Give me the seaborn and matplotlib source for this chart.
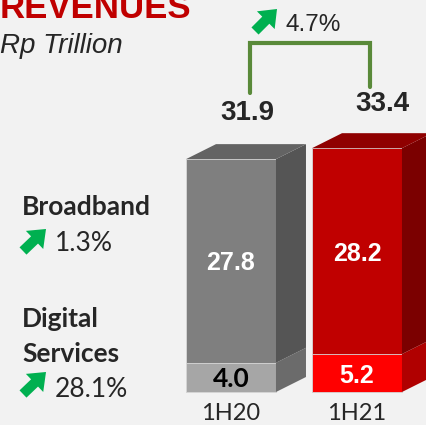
import numpy as np
import pandas as pd
import matplotlib
matplotlib.use("Agg")
import matplotlib.pyplot as plt
import seaborn as sns

# --- data ---
periods = ["1H20", "1H21"]
broadband = [27.8, 28.2]
digital = [4.0, 5.2]
totals = [31.9, 33.4]
growth_total = "4.7%"
growth_broadband = "1.3%"
growth_digital = "28.1%"

# --- style ---
BG = "#f2f2f2"
GREEN = "#00b050"
BRACKET = "#5a8a3a"
front_top = ["#7f7f7f", "#c00000"]
front_bot = ["#a6a6a6", "#ff0000"]
side_top = ["#555555", "#7b0000"]
side_bot = ["#6b6b6b", "#b00000"]
top_face = ["#636363", "#8f0000"]

W = 0.714          # bar width (category units)
DX = 30 / 126      # 3d depth, x
DY = 15 / 7.3      # 3d depth, y
ARIAL = "Liberation Sans"
CALIBRI = "Lato"

sns.set_style("white")

fig = plt.figure(figsize=(4.26, 4.25), dpi=100)
fig.patch.set_facecolor(BG)
ax = fig.add_axes([0, 0, 1, 1])
ax.set_facecolor(BG)

df = pd.DataFrame({"period": periods, "total": totals, "digital": digital,
                   "broadband": broadband})

sns.barplot(data=df, x="period", y="total", hue="period", palette=front_top,
            width=W, saturation=1, legend=False, ax=ax,
            edgecolor="#d9d9d9", linewidth=0.6)
sns.barplot(data=df, x="period", y="digital", hue="period", palette=front_bot,
            width=W, saturation=1, legend=False, ax=ax,
            edgecolor="#d9d9d9", linewidth=0.6)

# 3d side and top faces
for i in range(len(periods)):
    x0, x1 = i - W / 2, i + W / 2
    lo, mid, hi = 0, digital[i], totals[i]
    ax.fill([x1, x1 + DX, x1 + DX, x1], [lo, lo + DY, mid + DY, mid],
            color=side_bot[i], lw=0)
    ax.fill([x1, x1 + DX, x1 + DX, x1], [mid, mid + DY, hi + DY, hi],
            color=side_top[i], lw=0)
    ax.fill([x0, x1, x1 + DX, x0 + DX], [hi, hi, hi + DY, hi + DY],
            color=top_face[i], lw=0)

    # segment labels
    ax.text(i, (mid + hi) / 2, f"{broadband[i]:.1f}", ha="center",
            va="center_baseline", color="white", fontsize=18,
            fontweight="bold", family=ARIAL)
    ax.text(i, mid / 2, f"{digital[i]:.1f}", ha="center",
            va="center_baseline", color="black" if i == 0 else "white",
            fontsize=18 if i else 19, fontweight="bold",
            family=CALIBRI if i == 0 else ARIAL)
    ax.text(i, -3.84, periods[i], ha="center", va="baseline",
            fontsize=17, family=CALIBRI)

ax.set_xlim(-231 / 126, 195 / 126)
ax.set_ylim(-33 / 7.3, 392 / 7.3)
ax.axis("off")

# totals
tot_x = [0 + 16 / 126, 1 + 25 / 126]
tot_y = [totals[0] + DY + 3.3, totals[1] + DY + 3.0]
for i in range(len(periods)):
    ax.text(tot_x[i], tot_y[i], f"{totals[i]:.1f}", ha="center",
            va="baseline", fontsize=20, fontweight="bold", family=ARIAL)

# growth bracket
bx = [0 + 19 / 126, 1 + 13 / 126]
btop = max(totals) + 14.4
ax.plot([bx[0], bx[0], bx[1], bx[1]],
        [totals[0] + 9.1, btop, btop, totals[1] + 8.4],
        color=BRACKET, lw=3, solid_joinstyle="miter")


def fy(ypx):
    return 1 - ypx / 425


def up_arrow(x0, y0, x1, y1):
    ax.annotate("", xy=(x1, 425 - y1), xytext=(x0, 425 - y0),
                xycoords="figure pixels", textcoords="figure pixels",
                arrowprops=dict(arrowstyle="simple,head_length=0.6,head_width=0.95,tail_width=0.38",
                                color=GREEN, lw=0, mutation_scale=19,
                                shrinkA=0, shrinkB=0))


up_arrow(255, 31, 277, 9)
fig.text(285 / 426, fy(31), growth_total, fontsize=17.5, family=ARIAL,
         va="baseline")

# title
fig.text(0, fy(18), "REVENUES", color="#c00000", fontsize=25,
         fontweight="bold", family=ARIAL, va="baseline")
fig.text(0, fy(53), "Rp Trillion", fontsize=20, style="italic",
         family=ARIAL, va="baseline")

# left segment labels
fig.text(22 / 426, fy(215), "Broadband", fontsize=19, fontweight="bold",
         family=CALIBRI, va="baseline")
up_arrow(23, 251, 46, 229)
fig.text(55 / 426, fy(251), growth_broadband, fontsize=19, family=CALIBRI,
         va="baseline")
fig.text(22 / 426, fy(327), "Digital", fontsize=19, fontweight="bold",
         family=CALIBRI, va="baseline")
fig.text(22 / 426, fy(362), "Services", fontsize=19, fontweight="bold",
         family=CALIBRI, va="baseline")
up_arrow(23, 394, 46, 372)
fig.text(55 / 426, fy(397), growth_digital, fontsize=19, family=CALIBRI,
         va="baseline")

fig.savefig("out.png", dpi=100, facecolor=BG)
